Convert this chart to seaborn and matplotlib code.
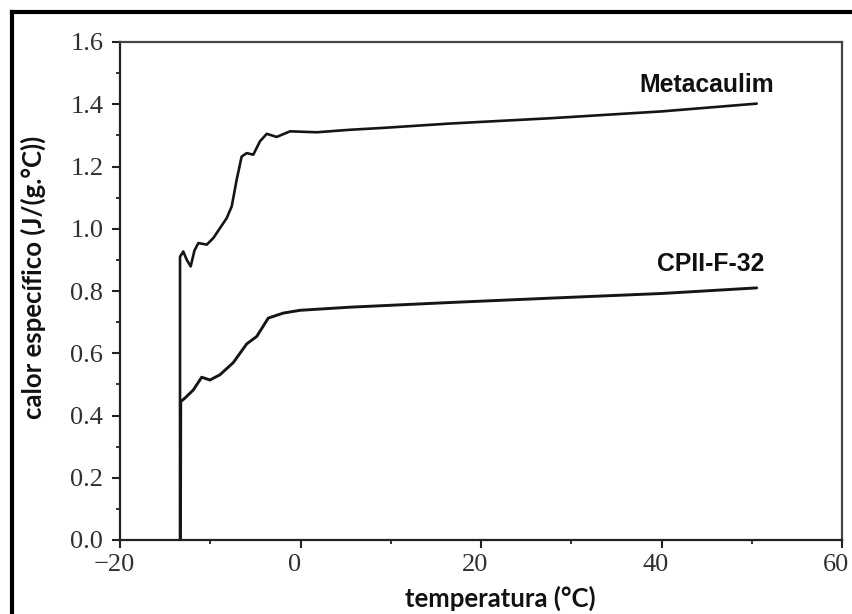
import numpy as np
import pandas as pd
import matplotlib
matplotlib.use("Agg")
import matplotlib.pyplot as plt
import matplotlib.transforms as mtransforms
from matplotlib.lines import Line2D
from matplotlib.ticker import MultipleLocator
import seaborn as sns

# ---- data ----
meta_T = [-13.35, -13.35, -12.99, -12.6, -12.17, -11.75, -11.32, -10.39, -9.66,
          -8.18, -7.62, -7.07, -6.52, -5.96, -5.23, -4.49, -3.74, -2.64, -1.16,
          1.80, 5.48, 9.14, 16.57, 27.65, 40.0, 50.55]
meta_cp = [0.00, 0.91, 0.927, 0.90, 0.879, 0.93, 0.954, 0.949, 0.970,
           1.034, 1.072, 1.158, 1.232, 1.243, 1.238, 1.281, 1.305, 1.295, 1.313,
           1.310, 1.318, 1.324, 1.338, 1.355, 1.377, 1.402]

cp_T = [-13.30, -13.27, -12.80, -11.88, -10.95, -10.03, -8.92, -7.45, -5.96,
        -4.85, -3.57, -1.91, -0.06, 5.48, 16.57, 27.65, 40.0, 50.55]
cp_cp = [0.00, 0.445, 0.456, 0.482, 0.523, 0.514, 0.531, 0.570, 0.630,
         0.654, 0.713, 0.729, 0.738, 0.748, 0.763, 0.777, 0.792, 0.810]

series_names = ["Metacaulim", "CPII-F-32"]
x_ticks = [-20, 0, 20, 40, 60]
y_ticks = [0.0, 0.2, 0.4, 0.6, 0.8, 1.0, 1.2, 1.4, 1.6]
xlabel = "temperatura (°C)"
ylabel = "calor específico (J/(g.°C))"

sns.set_style("white")

fig = plt.figure(figsize=(8.53, 6.14), dpi=100)
W, H = 853, 614
ax = fig.add_axes([120 / W, 1 - 540 / H, 722 / W, 498 / H])

line_color = "#151515"
sns.lineplot(x=meta_T, y=meta_cp, sort=False, estimator=None, ax=ax,
             color=line_color, linewidth=1.9)
sns.lineplot(x=cp_T, y=cp_cp, sort=False, estimator=None, ax=ax,
             color=line_color, linewidth=2.1)

ax.set_xlim(-20, 60)
ax.set_ylim(0, 1.6)
ax.set_xticks(x_ticks)
ax.set_yticks(y_ticks)
ax.set_xticklabels(["\u2212" + str(-v) if v < 0 else str(v) for v in x_ticks])
ax.set_yticklabels([f"{v:.1f}" for v in y_ticks])
ax.xaxis.set_minor_locator(MultipleLocator(10))
ax.yaxis.set_minor_locator(MultipleLocator(0.1))

ax.tick_params(axis="both", which="major", direction="out", length=6, width=1.5,
               color="#222222", bottom=True, left=True)
ax.tick_params(axis="x", which="major", pad=4)
ax.tick_params(axis="y", which="major", pad=6)
ax.tick_params(axis="both", which="minor", direction="out", length=3, width=1.3,
               color="#222222", bottom=True, left=True)

shift = mtransforms.ScaledTranslation(-6 / 100, 0, fig.dpi_scale_trans)
for lab in ax.get_xticklabels():
    lab.set_transform(lab.get_transform() + shift)
for lab in ax.get_xticklabels() + ax.get_yticklabels():
    lab.set_family("Liberation Serif")
    lab.set_fontsize(19)
    lab.set_color("#303030")

for side in ["left", "bottom"]:
    ax.spines[side].set_color("#222222")
    ax.spines[side].set_linewidth(1.6)
for side in ["top", "right"]:
    ax.spines[side].set_color("#444444")
    ax.spines[side].set_linewidth(1.6)

ax.set_xlabel("")
ax.set_ylabel("")
fig.text(500 / W, 1 - 598 / H, xlabel, ha="center", va="center",
         family=["Lato", "DejaVu Sans"], fontweight="bold", fontsize=18.5, color="#111111")
fig.text(33 / W, 1 - 277 / H, ylabel, ha="center", va="center", rotation=90,
         family=["Lato", "DejaVu Sans"], fontweight="bold", fontsize=18.5, color="#111111")

ax.text(45.0, 1.463, series_names[0], ha="center", va="center",
        family="Liberation Sans", fontweight="bold", fontsize=17.8, color="#111111")
ax.text(45.4, 0.887, series_names[1], ha="center", va="center",
        family="Liberation Sans", fontweight="bold", fontsize=17.8, color="#111111")

# outer frame (top and left edges visible in the reference)
fig.add_artist(Line2D([12 / W, 12 / W], [0, 1 - 12 / H], transform=fig.transFigure,
                      color="black", linewidth=3, solid_capstyle="projecting"))
fig.add_artist(Line2D([12 / W, 1], [1 - 12 / H, 1 - 12 / H], transform=fig.transFigure,
                      color="black", linewidth=3, solid_capstyle="projecting"))

fig.savefig("out.png", dpi=100)
